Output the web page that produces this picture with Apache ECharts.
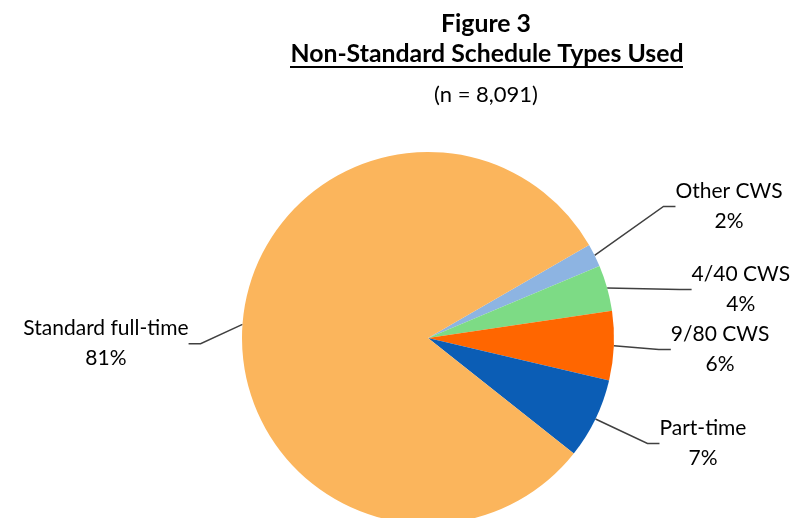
<!DOCTYPE html>
<html>
<head>
<meta charset="utf-8">
<script src="https://cdn.jsdelivr.net/npm/echarts@6/dist/echarts.min.js"></script>
<style>html,body{margin:0;padding:0;background:#fff}#c{width:790px;height:518px}</style>
</head>
<body>
<div id="c"></div>
<script>
const categories = ['Other CWS', '4/40 CWS', '9/80 CWS', 'Part-time', 'Standard full-time'];
const percentValues = [2, 4, 6, 7, 81];
const sliceColors = ['#8DB4E2', '#7DDB85', '#FF6600', '#0B5DB5', '#FBB55C'];

// label nudges (layout only) relative to ECharts' default label placement
const labelDX = [25, 27, 3, 8, -7];
const labelDY = [-40, -10, -3, 7, 17];

const FONT = 'Lato, "Open Sans", sans-serif';
const chart = echarts.init(document.getElementById('c'), null, {renderer: 'canvas'});
chart.setOption({
  backgroundColor: '#fff',
  animation: false,
  title: [
    {text: 'Figure 3', left: 481, top: 7, textAlign: 'center',
     textStyle: {fontFamily: FONT, fontSize: 24.8, fontWeight: 'bold', color: '#000'}},
    {text: 'Non-Standard Schedule Types Used', left: 482, top: 37, textAlign: 'center',
     textStyle: {fontFamily: FONT, fontSize: 24.8, fontWeight: 'bold', color: '#000'}},
    {text: '(n = 8,091)', left: 481, top: 79, textAlign: 'center',
     textStyle: {fontFamily: FONT, fontSize: 22, fontWeight: 'normal', color: '#000'}}
  ],
  graphic: [
    {type: 'rect', shape: {x: 290, y: 66, width: 393, height: 2}, style: {fill: '#000'}}
  ],
  series: [{
    type: 'pie',
    center: [428, 338],
    radius: 186,
    startAngle: 30,
    clockwise: true,
    avoidLabelOverlap: true,
    data: categories.map((n, i) => ({name: n, value: percentValues[i], itemStyle: {color: sliceColors[i]}})),
    label: {
      show: true,
      position: 'outside',
      formatter: '{a|{b}}\n{a|{c}%}',
      distanceToLabelLine: 5,
      padding: [0, 6, 0, 6],
      rich: {a: {fontFamily: FONT, fontSize: 21, color: '#000', lineHeight: 30, align: 'center'}}
    },
    labelLine: {show: true, length: 30, length2: 12, lineStyle: {color: '#404040', width: 1.5}},
    labelLayout: function (p) {
      const i = p.dataIndex;
      return {
        x: p.labelRect.x + labelDX[i],
        y: p.labelRect.y + labelDY[i],
        align: 'left',
        verticalAlign: 'top'
      };
    },
    emphasis: {disabled: true}
  }]
});
</script>
</body>
</html>
